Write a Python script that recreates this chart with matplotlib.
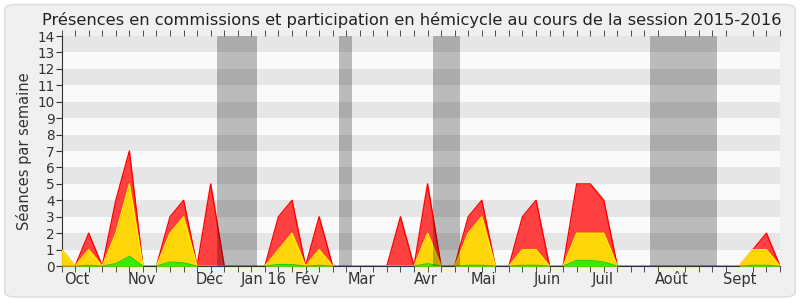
import numpy as np
import matplotlib
matplotlib.use('Agg')
import matplotlib.pyplot as plt
from matplotlib.patches import FancyBboxPatch

# weekly values, session 2015-2016 (one point per week)
total = [1, 0, 2, 0, 4, 7, 0, 0, 3, 4, 0, 5, 0, 0, 0, 0, 3, 4, 0, 3,
         0, 0, 0, 0, 0, 3, 0, 5, 0, 0, 3, 4, 0, 0, 3, 4, 0, 0, 5, 5,
         4, 0, 0, 0, 0, 0, 0, 0, 0, 0, 0, 1, 2, 0]
yellow = [1, 0, 1, 0, 2, 5, 0, 0, 2, 3, 0, 0, 0, 0, 0, 0, 1, 2, 0, 1,
          0, 0, 0, 0, 0, 0, 0, 2, 0, 0, 2, 3, 0, 0, 1, 1, 0, 0, 2, 2,
          2, 0, 0, 0, 0, 0, 0, 0, 0, 0, 0, 1, 1, 0]
green = [0, 0, 0.05, 0, 0.15, 0.6, 0, 0, 0.25, 0.2, 0, 0, 0, 0, 0, 0, 0.1, 0.1, 0, 0.05,
         0, 0, 0, 0, 0, 0, 0, 0.15, 0, 0, 0.05, 0.05, 0, 0, 0.05, 0.05, 0, 0, 0.35, 0.35,
         0.25, 0, 0, 0, 0, 0, 0, 0, 0, 0, 0, 0.05, 0.05, 0]

# holidays (in weeks)
vacances = [(11.43, 14.4), (20.43, 21.4), (27.43, 29.42), (43.43, 48.37)]

month_labels = ['Oct', 'Nov', 'Déc', 'Jan 16', 'Fév', 'Mar', 'Avr', 'Mai',
                'Juin', 'Juil', 'Août', 'Sept']
month_pos = [1.1, 5.9, 10.9, 14.9, 18.1, 22.1, 26.9, 31.1, 35.8, 39.9, 45.0, 50.0]


def main():
    weeks = np.arange(len(total))

    fig = plt.figure(figsize=(8, 3), dpi=100, facecolor='white')
    fig.patches.append(FancyBboxPatch((0.006, 0.01), 0.988, 0.975,
                                      boxstyle='round,pad=0,rounding_size=0.015',
                                      transform=fig.transFigure, facecolor='#f0f0f0',
                                      edgecolor='#dcdcdc', linewidth=1, zorder=-10))
    ax = fig.add_axes([0.077, 0.113, 0.898, 0.767])
    ax.set_facecolor('#fafafa')

    # horizontal stripes
    for k in range(1, 14, 2):
        ax.axhspan(k, k + 1, color='#e6e6e6', zorder=0, lw=0)

    ax.fill_between(weeks, 0, total, color='#ff4040', lw=0, zorder=2)
    ax.plot(weeks, total, color='#ff0000', lw=1, zorder=2)
    ax.fill_between(weeks, 0, yellow, color='#ffd60a', lw=0, zorder=3)
    ax.plot(weeks, yellow, color='#ffee00', lw=1, zorder=3)
    ax.fill_between(weeks, 0, green, color='#33ee00', lw=0, zorder=4)
    ax.plot(weeks, green, color='#22cc00', lw=0.8, zorder=4)

    for a, b in vacances:
        ax.axvspan(a, b, color='black', alpha=0.25, lw=0, zorder=5)

    ax.set_xlim(0, len(total) - 1)
    ax.set_ylim(0, 14)
    ax.set_yticks(range(0, 15))
    ax.set_xticks(month_pos)
    ax.set_xticklabels(month_labels)
    ax.set_xticks(weeks, minor=True)
    ax.tick_params(axis='x', which='major', length=0, labelsize=10.5, colors='#333333', pad=4)
    ax.tick_params(axis='x', which='minor', length=4, direction='out', color='#333333',
                   top=True)
    ax.tick_params(axis='y', length=4, labelsize=9.8, colors='#333333', pad=1)
    ax.set_ylabel('Séances par semaine', fontsize=10.5, color='#333333', labelpad=4)
    ax.set_title('Présences en commissions et participation en hémicycle au cours de la session 2015-2016',
                 fontsize=11.7, color='#222222', pad=8, x=0.488)

    for side in ['top', 'right']:
        ax.spines[side].set_visible(False)
    ax.spines['left'].set_color('#333333')
    ax.spines['bottom'].set_color('#333333')

    plt.savefig('out.png', dpi=100, facecolor='white')


if __name__ == '__main__':
    main()
